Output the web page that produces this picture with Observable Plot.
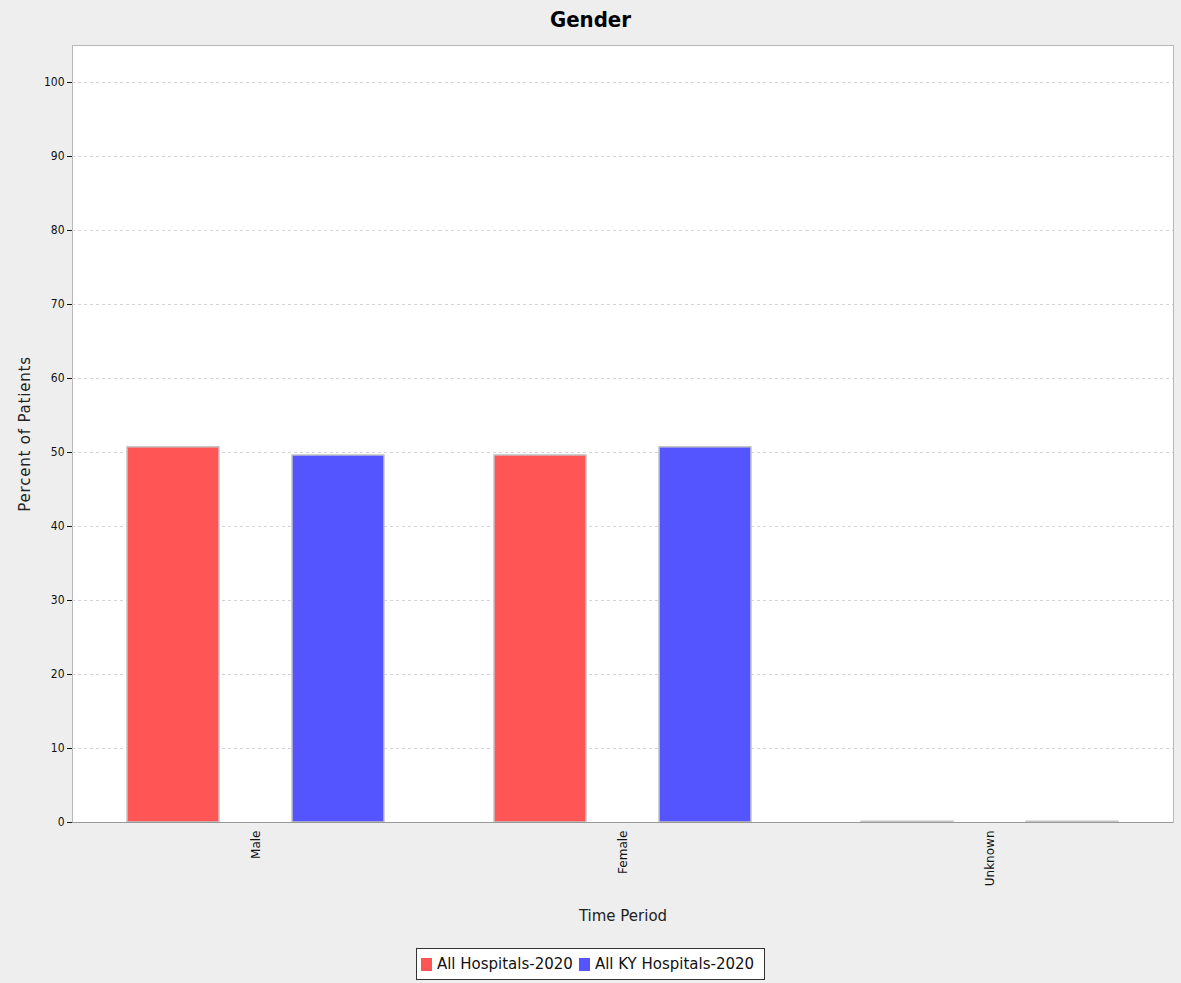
<!DOCTYPE html>
<html>
<head>
<meta charset="utf-8">
<script src="https://cdn.jsdelivr.net/npm/d3@7"></script>
<script src="https://cdn.jsdelivr.net/npm/@observablehq/plot@0.6"></script>
<style>
  html, body { margin: 0; padding: 0; background: #eeeeee; width: 1181px; height: 983px; overflow: hidden; }
  #title { height: 40px; line-height: 40px; text-align: center; font-family: "DejaVu Sans Condensed", "DejaVu Sans", sans-serif; font-weight: bold; font-size: 22px; color: #000; }
  #chart { height: 900px; }
  #legend { display: flex; justify-content: center; margin-top: 8px; }
  #legend .box { display: flex; align-items: center; background: #fff; border: 1px solid #333; height: 30px; padding: 0 4px; font-family: "DejaVu Sans", sans-serif; font-size: 15px; color: #111; }
  #legend .sw { width: 11px; height: 13px; margin: 0 5px 0 0; }
  #legend .item { display: flex; align-items: center; margin-right: 6px; }
</style>
</head>
<body>
<div id="title">Gender</div>
<div id="chart"></div>
<div id="legend"></div>
<script>
const categories = ["Male", "Female", "Unknown"];
const series = ["All Hospitals-2020", "All KY Hospitals-2020"];
const allHospitals = [50.7, 49.6, 0.1];
const allKYHospitals = [49.6, 50.7, 0.1];
const yTicks = [0, 10, 20, 30, 40, 50, 60, 70, 80, 90, 100];
const colors = ["#ff5555", "#5555ff"];

const data = categories.flatMap((c, i) => [
  {category: c, series: series[0], value: allHospitals[i]},
  {category: c, series: series[1], value: allKYHospitals[i]}
]);

const plot = Plot.plot({
  width: 1181,
  height: 900,
  marginTop: 5,
  marginLeft: 71,
  marginRight: 7,
  marginBottom: 118,
  style: {background: "transparent", fontFamily: "DejaVu Sans, sans-serif", fontSize: "12px", color: "#111"},
  fx: {domain: categories, padding: 0, label: "Time Period", labelAnchor: "center", labelOffset: 98, labelArrow: "none", tickRotate: -90, tickSize: 0, tickPadding: 8},
  x: {domain: series, paddingInner: 0.44, paddingOuter: 0.328, axis: null},
  y: {domain: [0, 105], ticks: yTicks, label: "Percent of Patients", labelAnchor: "center", labelArrow: "none", labelOffset: 53, tickSize: 5, tickPadding: 3},
  color: {domain: series, range: colors},
  marks: [
    Plot.frame({facet: "super", fill: "white", stroke: "#b8b8b8"}),
    Plot.ruleY(yTicks.slice(1), {stroke: "#d4d4d4", strokeDasharray: "3,3"}),
    Plot.barY(data, {fx: "category", x: "series", y: "value", fill: "series", stroke: "#c4c4c4", strokeWidth: 1.5}),
    Plot.ruleY([0], {stroke: "#999"})
  ]
});
plot.querySelectorAll('[aria-label="y-axis tick label"]').forEach(e => e.setAttribute("font-family", "DejaVu Sans Condensed, DejaVu Sans, sans-serif"));
plot.querySelectorAll('[aria-label="y-axis label"], [aria-label="fx-axis label"]').forEach(e => {
  e.setAttribute("font-size", "15px"); e.setAttribute("fill", "#222");
  e.querySelectorAll("text").forEach(t => { t.textContent = t.textContent.replace(/\s*[↑→↓←]\s*/g, ""); });
});
plot.querySelectorAll('[aria-label="y-axis label"]').forEach(e => e.setAttribute("letter-spacing", "0.8px"));
document.getElementById("chart").appendChild(plot);

const legend = document.getElementById("legend");
const box = document.createElement("div");
box.className = "box";
series.forEach((s, i) => {
  const item = document.createElement("div");
  item.className = "item";
  const sw = document.createElement("div");
  sw.className = "sw";
  sw.style.background = colors[i];
  item.appendChild(sw);
  item.appendChild(document.createTextNode(s));
  box.appendChild(item);
});
legend.appendChild(box);
</script>
</body>
</html>
